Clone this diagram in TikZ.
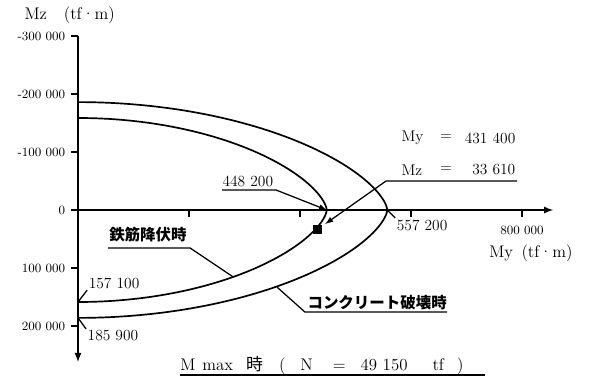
\documentclass[tikz,border=0pt]{standalone}
\usepackage{fontspec}
\newfontfamily\jp{Noto Sans CJK JP}
\begin{document}
\begin{tikzpicture}[x=1.3875cm, y=-1.45cm]
  \tikzstyle{axe}=[line width=1.2pt]
  \tikzstyle{courbe}=[line width=1.2pt]
  \tikzstyle{trait}=[line width=0.9pt]
  \tikzstyle{fleche}=[-latex, line width=0.9pt]
  \tikzstyle{graduation}=[font=\small, anchor=east, inner sep=1pt]
  \tikzstyle{valeur}=[font=\fontsize{11}{13}\selectfont, inner sep=1pt]
  \tikzstyle{legende}=[font=\jp\bfseries\fontsize{11}{13}\selectfont, inner sep=1pt]
  \useasboundingbox (-1.4054,-3.6207) rectangle (9.2973,2.9483);
  % axes
  \coordinate (haut) at (0,-3);
  \coordinate (bas) at (0,2.62);
  \coordinate (gauche) at (-0.1,0);
  \coordinate (droite) at (8.56,0);
  \draw[axe,-latex] (haut) -- (bas);
  \draw[axe,-latex] (gauche) -- (droite);
  \foreach \v/\t in {-3/-300 000,-2/-200 000,-1/-100 000,0/0,1/100 000,2/200 000} {
    \draw[axe] (-0.12,\v) -- (0,\v);
    \node[graduation] (g\v) at (-0.2,\v) {\t};
  }
  \foreach \u in {2,4,6,8} {
    \draw[axe] (\u,0) -- (\u,0.12);
  }
  \node[graduation, anchor=center] (g800) at (8,0.36) {800 000};
  \node[font=\large] (nomy) at (8.16,0.74) {My\enspace(tf·m)};
  \node[font=\large] (nomz) at (-0.15,-3.36) {Mz\quad(tf·m)};
  % courbes d'interaction
  \draw[courbe] plot[domain=-90:90, samples=120, smooth]
    ({5.572*cos(\x)}, {1.86*sin(\x)*abs(sin(\x))^0.29});
  \draw[courbe] plot[domain=-90:90, samples=120, smooth]
    ({4.482*cos(\x)}, {1.586*sin(\x)*abs(sin(\x))^0.29});
  \coordinate (pe) at (5.572,0);
  \coordinate (pi) at (4.482,0);
  \coordinate (ib) at (0,1.586);
  \coordinate (ob) at (0,1.86);
  \coordinate (ci) at (2.79,1.15);
  \coordinate (co) at (3.586,1.33);
  % point de calcul
  \node[fill, minimum size=6pt, inner sep=0pt] (P) at (4.314,0.336) {};
  \node[valeur, anchor=west] (my) at (5.80,-1.24) {My};
  \node[valeur] (eg1) at (6.63,-1.24) {=};
  \node[valeur, anchor=east] (vy) at (7.91,-1.24) {431 400};
  \node[valeur, anchor=west] (mz) at (5.80,-0.69) {Mz};
  \node[valeur] (eg2) at (6.63,-0.69) {=};
  \node[valeur, anchor=east] (vz) at (7.91,-0.69) {33 610};
  \coordinate (s1) at (5.55,-0.5);
  \coordinate (s2) at (7.91,-0.5);
  \draw[fleche, shorten >=3pt] (s2) -- (s1) -- (P);
  % valeurs
  \node[valeur] (v448) at (3.06,-0.5) {448 200};
  \coordinate (a1) at (2.595,-0.345);
  \coordinate (a2) at (3.568,-0.345);
  \draw[fleche] (a1) -- (a2) -- (pi);
  \node[valeur] (v557) at (6.2,0.26) {557 200};
  \draw[trait] (pe) -- (v557.north west);
  \node[valeur] (v157) at (0.65,1.26) {157 100};
  \draw[trait] (ib) -- (v157.south west);
  \node[valeur] (v185) at (0.63,2.17) {185 900};
  \draw[trait] (ob) -- (v185.north west);
  % legendes
  \node[legende] (acier) at (1.26,0.43) {鉄筋降伏時};
  \coordinate (b1) at (0.54,0.655);
  \coordinate (b2) at (2.02,0.655);
  \draw[trait] (b1) -- (b2) -- (ci);
  \node[legende] (beton) at (5.39,1.59) {コンクリート破壊時};
  \coordinate (c1) at (6.65,1.76);
  \coordinate (c2) at (4.09,1.76);
  \draw[trait] (c1) -- (c2) -- (co);
  % titre
  \node[font=\large, anchor=base west, inner sep=0pt] (titre) at (1.838,2.759)
    {M\hspace{1.75mm}max\hspace{3.25mm}{\jp 時}\hspace{4mm}(\hspace{3.75mm}N\hspace{5mm}=\hspace{3.75mm}49 150\hspace{6.25mm}tf\hspace{3.25mm})};
  \coordinate (t1) at (1.838,2.845);
  \coordinate (t2) at (7.333,2.845);
  \draw[trait] (t1) -- (t2);
\end{tikzpicture}
\end{document}
